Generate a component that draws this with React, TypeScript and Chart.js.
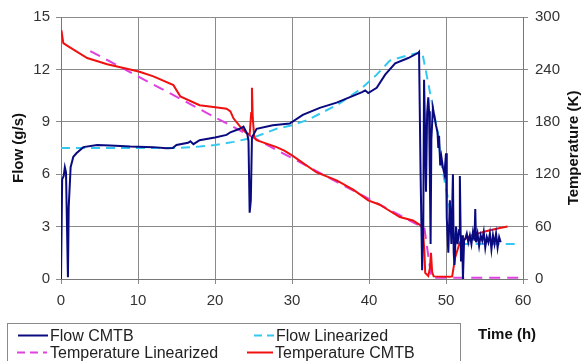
import { useEffect, useRef } from 'react';
import { Chart, registerables } from 'chart.js';

Chart.register(...registerables);

// ---- data ----
const flowCmtbTime = [
  0, 0.15, 0.35, 0.5, 0.65, 0.9, 1.0, 1.25, 1.6, 2.0, 2.9, 4.7, 6.4, 9, 12, 13.7, 14.5, 15, 16.5, 16.8,
  17.2, 18, 20, 21.5, 22, 23.2, 23.7, 24.2, 24.35, 24.5, 24.65, 24.8, 25.4, 27.5, 29.7, 31.4, 33.6, 35.8, 39.1, 39.5,
  39.9, 41, 42.1, 43.4, 45.1, 46.4, 46.5, 46.7, 46.9, 47.05, 47.15, 47.3, 47.4, 47.55, 47.7, 47.8, 47.9, 48.0, 48.1, 48.3,
  48.5, 48.7, 48.9, 49.0, 49.1, 49.25, 49.4, 49.6, 49.8, 50.0, 50.1, 50.3, 50.5, 50.7, 50.9, 51.0, 51.1, 51.3, 51.5, 51.7,
  51.8, 51.95, 52.1, 52.2, 52.35, 52.5, 52.7, 52.9, 53.1, 53.3, 53.5, 53.7, 53.8, 53.9, 54.1, 54.3, 54.5, 54.7, 54.9, 55.1,
  55.3, 55.5, 55.7, 55.9, 56.1, 56.3, 56.5, 56.7, 56.9, 57.1,
];
const flowCmtbValue = [
  0, 5.7, 5.9, 6.4, 6.1, 0.1, 4.1, 6.4, 7.0, 7.2, 7.55, 7.67, 7.65, 7.58, 7.55, 7.48, 7.5, 7.67, 7.8, 7.88,
  7.72, 7.95, 8.1, 8.25, 8.4, 8.6, 8.72, 8.3, 7.9, 3.8, 4.5, 8.1, 8.6, 8.8, 8.9, 9.4, 9.8, 10.1, 10.7, 10.8,
  10.65, 10.95, 11.7, 12.35, 12.65, 12.95, 13.0, 6.0, 0.5, 3.0, 11.4, 8.0, 5.0, 9.5, 10.4, 9.6, 6.0, 2.0, 8.0, 9.8,
  9.3, 8.8, 8.4, 7.5, 8.2, 6.5, 7.0, 6.4, 6.0, 7.2, 3.5, 1.5, 4.5, 2.0, 6.0, 1.5, 0.8, 3.0, 2.0, 2.8,
  5.9, 1.0, 2.5, 0.0, 2.2, 2.3, 2.6, 2.1, 2.5, 2.0, 2.7, 2.2, 4.0, 2.1, 2.6, 1.9, 2.5, 2.2, 2.7, 1.8,
  2.4, 2.1, 2.6, 1.7, 2.5, 2.0, 2.6, 1.8, 2.4, 2.1,
];

const flowLinTime = [0, 15, 18, 20, 22.4, 25, 28, 30, 32, 36, 39, 41, 42.7, 45, 46.9, 47.7, 48.3, 49, 49.3, 50.3, 51.2, 51.5, 59.6];
const flowLinValue = [7.5, 7.5, 7.58, 7.67, 7.85, 8.1, 8.6, 8.8, 9.1, 10.0, 10.9, 11.7, 12.5, 12.8, 13.0, 11.2, 9.8, 8.2, 6.8, 4.5, 2.2, 2.0, 2.0];

const tempLinTime = [3.8, 47.2, 48.1, 59.6];
const tempLinValue = [261, 58, 1.5, 1.5];

const tempCmtbTime = [
  0.05, 0.3, 1, 3.4, 6, 9.4, 10.3, 12, 14.6, 15.5, 18, 19.8, 21.5, 22, 22.4, 23.5, 24.1, 24.5, 24.7, 24.8,
  24.9, 25.1, 25.4, 28, 29, 30.1, 33.2, 35.8, 38, 39.9, 41.4, 42.5, 44, 45.7, 46.6, 47, 47.2, 47.3, 47.7, 47.9,
  48.05, 48.2, 48.4, 50.5, 50.8, 51.2, 51.8, 52.7, 53.3, 55.3, 57, 58,
];
const tempCmtbValue = [
  285, 270, 266, 253, 246, 239, 237, 232, 222, 209, 199, 197, 195, 192, 184, 172, 167, 165, 190, 219,
  185, 162, 159, 151, 147, 141, 122, 113, 102, 90, 85, 79, 71, 67, 62, 58, 30, 7, 3.5, 12,
  30, 8, 3, 2.5, 3, 25, 42, 47, 50, 55, 58.5, 60,
];

const xTickValues = [0, 10, 20, 30, 40, 50, 60];
const flowTickValues = [0, 3, 6, 9, 12, 15];
const tempTickValues = [0, 60, 120, 180, 240, 300];

const seriesNames = ['Flow CMTB', 'Flow Linearized', 'Temperature Linearized', 'Temperature CMTB'];

// ---- styles ----
const NAVY = '#0a0a80';
const CYAN = '#33c8f0';
const MAGENTA = '#e040e0';
const RED = '#f01010';
const FONT = '"Liberation Sans", Arial, sans-serif';

function toPoints(t: number[], v: number[]) {
  return t.map((x, i) => ({ x, y: v[i] }));
}

const overlayPlugin = {
  id: 'overlay',
  afterDraw(chart: any) {
    const ctx = chart.ctx as CanvasRenderingContext2D;
    const area = chart.chartArea;
    const midY = (area.top + area.bottom) / 2;
    ctx.save();
    ctx.fillStyle = '#111';
    ctx.font = `bold 15px ${FONT}`;
    ctx.textAlign = 'center';
    ctx.textBaseline = 'middle';
    // left title
    ctx.save();
    ctx.translate(19, midY);
    ctx.rotate(-Math.PI / 2);
    ctx.fillText('Flow (g/s)', 0, 0);
    ctx.restore();
    // right title
    ctx.save();
    ctx.translate(574, midY);
    ctx.rotate(-Math.PI / 2);
    ctx.fillText('Temperature (K)', 0, 0);
    ctx.restore();
    // x title
    ctx.textAlign = 'left';
    ctx.fillText('Time (h)', 478, 335);

    // legend
    ctx.strokeStyle = '#8a8a8a';
    ctx.lineWidth = 1;
    ctx.strokeRect(7.5, 323.5, 453, 60);
    const items = [
      { name: seriesNames[0], color: NAVY, dash: [] as number[], x0: 18, x1: 48, tx: 50, y: 337 },
      { name: seriesNames[1], color: CYAN, dash: [8, 5], x0: 254, x1: 274, tx: 276, y: 337 },
      { name: seriesNames[2], color: MAGENTA, dash: [8, 5], x0: 17, x1: 47, tx: 50, y: 354 },
      { name: seriesNames[3], color: RED, dash: [] as number[], x0: 247, x1: 273, tx: 275, y: 354 },
    ];
    ctx.font = `16px ${FONT}`;
    for (const it of items) {
      ctx.strokeStyle = it.color;
      ctx.lineWidth = 2;
      ctx.setLineDash(it.dash);
      ctx.beginPath();
      ctx.moveTo(it.x0, it.y - 1.5);
      ctx.lineTo(it.x1, it.y - 1.5);
      ctx.stroke();
      ctx.setLineDash([]);
      ctx.fillStyle = '#222';
      ctx.fillText(it.name, it.tx, it.y);
    }
    ctx.restore();
  },
};

export default function App() {
  const ref = useRef<HTMLCanvasElement>(null);
  useEffect(() => {
    if (!ref.current) return;
    const chart = new Chart(ref.current, {
      type: 'line',
      data: {
        datasets: [
          {
            label: seriesNames[0],
            data: toPoints(flowCmtbTime, flowCmtbValue),
            borderColor: NAVY,
            borderWidth: 2,
            pointRadius: 0,
            yAxisID: 'y',
            order: 1,
          },
          {
            label: seriesNames[1],
            data: toPoints(flowLinTime, flowLinValue),
            borderColor: CYAN,
            borderWidth: 2,
            borderDash: [9, 6],
            pointRadius: 0,
            yAxisID: 'y',
            order: 3,
          },
          {
            label: seriesNames[2],
            data: toPoints(tempLinTime, tempLinValue),
            borderColor: MAGENTA,
            borderWidth: 2,
            borderDash: [11, 7],
            pointRadius: 0,
            yAxisID: 'y1',
            order: 4,
          },
          {
            label: seriesNames[3],
            data: toPoints(tempCmtbTime, tempCmtbValue),
            borderColor: RED,
            borderWidth: 2,
            pointRadius: 0,
            yAxisID: 'y1',
            order: 2,
          },
        ],
      },
      options: {
        responsive: false,
        animation: false,
        layout: { padding: { top: 17, left: 0, right: 0, bottom: 0 } },
        plugins: { legend: { display: false }, tooltip: { enabled: false } },
        scales: {
          x: {
            type: 'linear',
            min: 0,
            max: 60,
            afterBuildTicks: (s: any) => { s.ticks = xTickValues.map((v) => ({ value: v })); },
            afterFit: (s: any) => { s.height = 82; },
            grid: { color: '#8a8a8a', lineWidth: 1, tickLength: 5 },
            border: { color: '#777', width: 1 },
            ticks: { color: '#333', font: { family: FONT, size: 15 }, padding: 8, maxRotation: 0 },
          },
          y: {
            position: 'left',
            min: 0,
            max: 15,
            afterBuildTicks: (s: any) => { s.ticks = flowTickValues.map((v) => ({ value: v })); },
            afterFit: (s: any) => { s.width = 61; },
            grid: { color: '#8a8a8a', lineWidth: 1, tickLength: 5 },
            border: { color: '#777', width: 1 },
            ticks: { color: '#333', font: { family: FONT, size: 15 }, padding: 6 },
          },
          y1: {
            position: 'right',
            min: 0,
            max: 300,
            afterBuildTicks: (s: any) => { s.ticks = tempTickValues.map((v) => ({ value: v })); },
            afterFit: (s: any) => { s.width = 61; },
            grid: { drawOnChartArea: false, color: '#8a8a8a', tickLength: 5 },
            border: { color: '#777', width: 1 },
            ticks: { color: '#333', font: { family: FONT, size: 15 }, padding: 7 },
          },
        },
      },
      plugins: [overlayPlugin],
    } as any);
    return () => chart.destroy();
  }, []);
  return (
    <div style={{ position: 'fixed', left: 0, top: 0, width: 584, height: 361, background: '#fff' }}>
      <canvas ref={ref} width={584} height={361} style={{ display: 'block' }} />
    </div>
  );
}
